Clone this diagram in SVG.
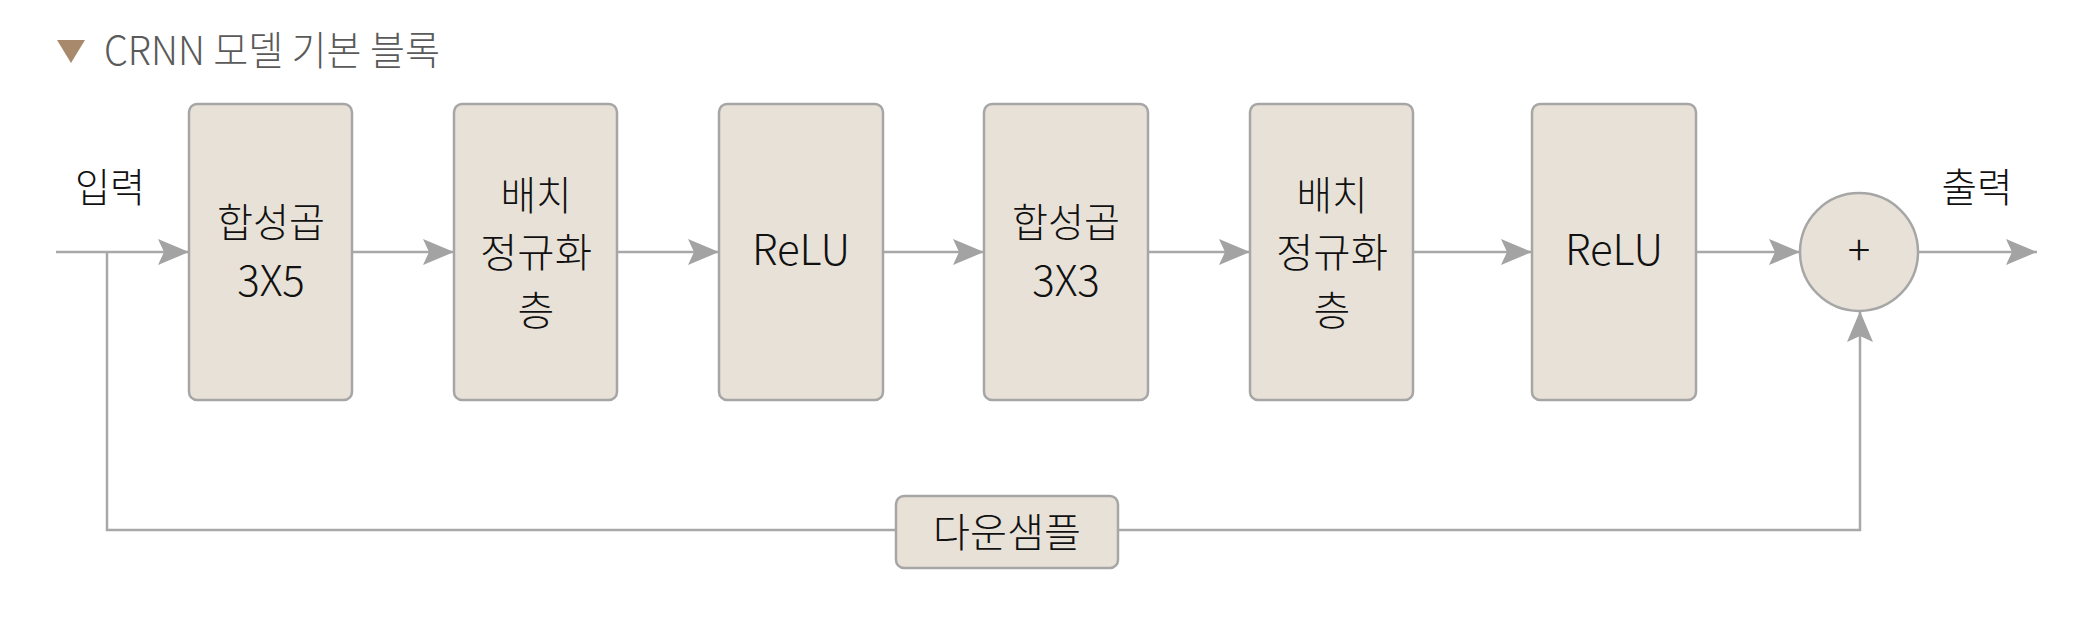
<svg xmlns="http://www.w3.org/2000/svg" width="2100" height="628" viewBox="0 0 2100 628">
<defs>
<style>
.box{fill:#e8e1d7;stroke:#a6a6a6;stroke-width:2.5}
.ln{fill:none;stroke:#a8a8a8;stroke-width:2.5}
.ko{font-family:"Noto Sans CJK KR","Noto Sans",sans-serif;font-size:40px;font-weight:300;fill:#111111;text-anchor:middle}
.la{font-family:"Noto Sans CJK KR","Noto Sans",sans-serif;font-size:42px;font-weight:300;fill:#111111;text-anchor:middle}
.title{font-family:"Noto Sans CJK KR","Noto Sans",sans-serif;font-size:40px;font-weight:300;fill:#5a5a5a}
</style>
<marker id="ah" markerUnits="userSpaceOnUse" markerWidth="31" markerHeight="26" refX="31" refY="13" orient="auto" viewBox="0 0 31 26">
<path d="M0,0 L31,13 L0,26 L6,13 z" fill="#a3a3a3"/>
</marker>
</defs>
<rect width="2100" height="628" fill="#ffffff"/>
<g id="title">
<polygon points="57,40 85,40 71,63" fill="#a8896b"/>
<text class="title" x="104" y="65" textLength="336" lengthAdjust="spacingAndGlyphs">CRNN 모델 기본 블록</text>
</g>
<g id="connectors">
<line class="ln" x1="56" y1="252" x2="189" y2="252" marker-end="url(#ah)"/>
<polyline class="ln" points="107,252 107,530 896,530"/>
<polyline class="ln" points="1118,530 1860,530 1860,311" marker-end="url(#ah)"/>
<line class="ln" x1="352" y1="252" x2="454" y2="252" marker-end="url(#ah)"/>
<line class="ln" x1="617" y1="252" x2="719" y2="252" marker-end="url(#ah)"/>
<line class="ln" x1="883" y1="252" x2="984" y2="252" marker-end="url(#ah)"/>
<line class="ln" x1="1148" y1="252" x2="1250" y2="252" marker-end="url(#ah)"/>
<line class="ln" x1="1413" y1="252" x2="1532" y2="252" marker-end="url(#ah)"/>
<line class="ln" x1="1696" y1="252" x2="1800" y2="252" marker-end="url(#ah)"/>
<line class="ln" x1="1918" y1="252" x2="2037" y2="252" marker-end="url(#ah)"/>
</g>
<g id="input">
<text class="ko" x="110" y="202" textLength="70" lengthAdjust="spacingAndGlyphs">입력</text>
</g>
<g id="output">
<text class="ko" x="1977" y="202" textLength="71" lengthAdjust="spacingAndGlyphs">출력</text>
</g>
<g id="conv1">
<rect class="box" x="189" y="104" width="163" height="296" rx="8"/>
<text class="ko" x="271" y="237" textLength="108" lengthAdjust="spacingAndGlyphs">합성곱</text>
<text class="la" x="271" y="296">3X5</text>
</g>
<g id="bn1">
<rect class="box" x="454" y="104" width="163" height="296" rx="8"/>
<text class="ko" x="536" y="210" textLength="71" lengthAdjust="spacingAndGlyphs">배치</text>
<text class="ko" x="536" y="267" textLength="112" lengthAdjust="spacingAndGlyphs">정규화</text>
<text class="ko" x="536" y="325">층</text>
</g>
<g id="relu1">
<rect class="box" x="719" y="104" width="164" height="296" rx="8"/>
<text class="la" x="801" y="265">ReLU</text>
</g>
<g id="conv2">
<rect class="box" x="984" y="104" width="164" height="296" rx="8"/>
<text class="ko" x="1066" y="237" textLength="108" lengthAdjust="spacingAndGlyphs">합성곱</text>
<text class="la" x="1066" y="296">3X3</text>
</g>
<g id="bn2">
<rect class="box" x="1250" y="104" width="163" height="296" rx="8"/>
<text class="ko" x="1332" y="210" textLength="71" lengthAdjust="spacingAndGlyphs">배치</text>
<text class="ko" x="1332" y="267" textLength="112" lengthAdjust="spacingAndGlyphs">정규화</text>
<text class="ko" x="1332" y="325">층</text>
</g>
<g id="relu2">
<rect class="box" x="1532" y="104" width="164" height="296" rx="8"/>
<text class="la" x="1614" y="265">ReLU</text>
</g>
<g id="add">
<circle class="box" cx="1859" cy="252" r="59"/>
<text class="la" x="1859" y="265">+</text>
</g>
<g id="downsample">
<rect class="box" x="896" y="496" width="222" height="72" rx="8"/>
<text class="ko" x="1007" y="547" textLength="148" lengthAdjust="spacingAndGlyphs">다운샘플</text>
</g>
</svg>
